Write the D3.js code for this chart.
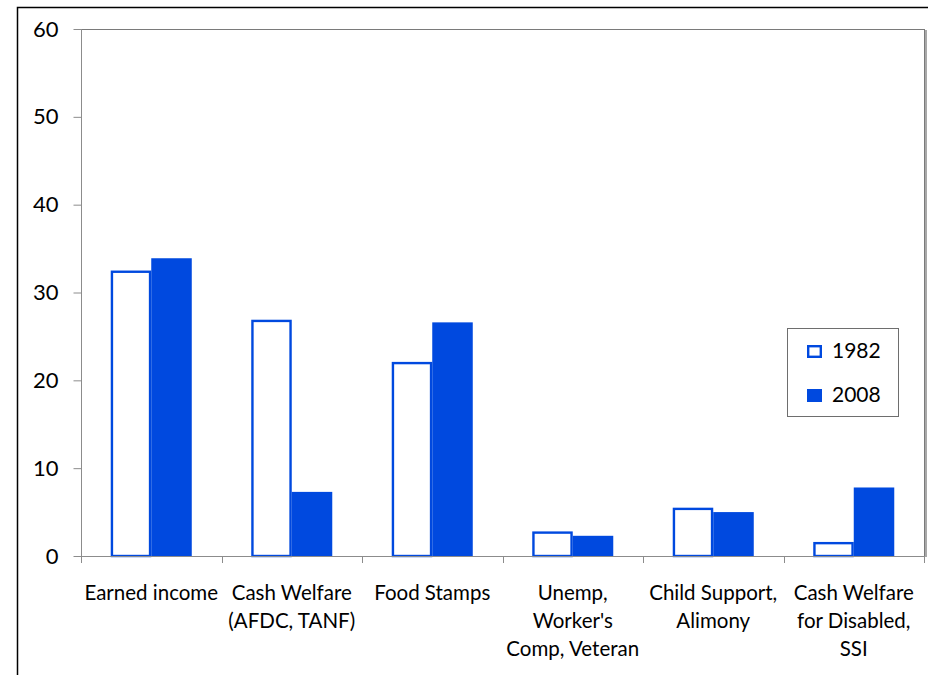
<!DOCTYPE html>
<html>
<head>
<meta charset="utf-8">
<script src="https://cdn.jsdelivr.net/npm/d3@7"></script>
<style>
  html, body { margin: 0; padding: 0; background: #fff; }
  svg { display: block; }
  text { font-family: Lato, "Open Sans", sans-serif; fill: #000; }
</style>
</head>
<body>
<div id="chart"></div>
<script>
// Share of income by source, 1982 vs 2008
const categories = [
  ["Earned income"],
  ["Cash Welfare", "(AFDC, TANF)"],
  ["Food Stamps"],
  ["Unemp,", "Worker's", "Comp, Veteran"],
  ["Child Support,", "Alimony"],
  ["Cash Welfare", "for Disabled,", "SSI"]
];
const seriesNames = ["1982", "2008"];
const values1982 = [32.5, 26.9, 22.1, 2.8, 5.5, 1.6];
const values2008 = [33.9, 7.3, 26.6, 2.3, 5.0, 7.8];
const yTicks = [0, 10, 20, 30, 40, 50, 60];

const W = 928, H = 675;
const plot = { left: 81, right: 924, top: 29, bottom: 556 };
const blue = "#0049DF";

const svg = d3.select("#chart").append("svg")
  .attr("width", W).attr("height", H);

// outer chart frame
svg.append("rect")
  .attr("x", 17.5).attr("y", 7.5)
  .attr("width", W + 20).attr("height", H + 20)
  .attr("fill", "none").attr("stroke", "#000").attr("stroke-width", 1.5);

const catKeys = categories.map(c => c.join(" "));
const x0 = d3.scaleBand().domain(catKeys)
  .range([plot.left, plot.right]).paddingInner(0).paddingOuter(0);
const x1 = d3.scaleBand().domain(seriesNames)
  .range([0, x0.bandwidth()]).paddingInner(0).paddingOuter(0.734);
const y = d3.scaleLinear().domain([0, 60]).range([plot.bottom, plot.top]);

// plot frame: top and right edges
svg.append("line")
  .attr("x1", plot.left).attr("x2", plot.right)
  .attr("y1", plot.top + 0.5).attr("y2", plot.top + 0.5)
  .attr("stroke", "#7a7a7a").attr("stroke-width", 1);
svg.append("line")
  .attr("x1", plot.right + 0.5).attr("x2", plot.right + 0.5)
  .attr("y1", plot.top).attr("y2", plot.bottom)
  .attr("stroke", "#7a7a7a").attr("stroke-width", 1);
svg.append("line")
  .attr("x1", plot.right + 2).attr("x2", plot.right + 2)
  .attr("y1", plot.top + 1).attr("y2", plot.bottom + 1)
  .attr("stroke", "#a8a8a8").attr("stroke-width", 2);

// y axis
const yAxis = d3.axisLeft(y).tickValues(yTicks).tickSize(8).tickPadding(15)
  .tickFormat(d3.format("d"));
const gy = svg.append("g").attr("transform", `translate(${plot.left + 0.5},0)`).call(yAxis);
gy.select(".domain").attr("stroke", "#8c8c8c").attr("d", `M0,${plot.top}V${plot.bottom + 6}`);
gy.selectAll(".tick line").attr("stroke", "#8c8c8c");
gy.selectAll(".tick text")
  .attr("font-family", "Lato, sans-serif").attr("font-size", 22).attr("fill", "#000");

// bars
const rows = catKeys.map((k, i) => ({ key: k, vals: [values1982[i], values2008[i]] }));
const groups = svg.append("g").selectAll("g").data(rows).join("g")
  .attr("transform", d => `translate(${x0(d.key)},0)`);

groups.selectAll("rect.s1982").data(d => [d.vals[0]]).join("rect")
  .attr("class", "s1982")
  .attr("x", x1("1982") + 1.2)
  .attr("y", v => y(v) + 1.2)
  .attr("width", x1.bandwidth() - 2.4)
  .attr("height", v => y(0) - y(v) - 1.2)
  .attr("fill", "#fff").attr("stroke", blue).attr("stroke-width", 2.4);

groups.selectAll("rect.s2008").data(d => [d.vals[1]]).join("rect")
  .attr("class", "s2008")
  .attr("x", x1("2008"))
  .attr("y", v => y(v))
  .attr("width", x1.bandwidth())
  .attr("height", v => y(0) - y(v))
  .attr("fill", blue);

// x axis baseline and category boundary ticks
svg.append("line")
  .attr("x1", plot.left).attr("x2", plot.right)
  .attr("y1", plot.bottom + 0.5).attr("y2", plot.bottom + 0.5)
  .attr("stroke", "#8c8c8c");
const bounds = catKeys.map(k => x0(k)).concat([plot.right]);
svg.append("g").selectAll("line").data(bounds).join("line")
  .attr("x1", d => Math.round(d) + 0.5).attr("x2", d => Math.round(d) + 0.5)
  .attr("y1", plot.bottom).attr("y2", plot.bottom + 7)
  .attr("stroke", "#8c8c8c");

// category labels
const labels = svg.append("g").selectAll("text").data(categories).join("text")
  .attr("text-anchor", "middle")
  .attr("font-size", 20.5)
  .attr("x", (d, i) => x0(catKeys[i]) + x0.bandwidth() / 2)
  .attr("y", 600);
labels.selectAll("tspan").data(d => d).join("tspan")
  .attr("x", function () { return d3.select(this.parentNode).attr("x"); })
  .attr("dy", (d, i) => i === 0 ? 0 : 28)
  .text(d => d);

// legend
const legend = svg.append("g");
legend.append("rect")
  .attr("x", 787.5).attr("y", 328.5).attr("width", 111).attr("height", 88)
  .attr("fill", "#fff").attr("stroke", "#6e6e6e").attr("stroke-width", 1);
const legItems = legend.selectAll("g").data(seriesNames).join("g")
  .attr("transform", (d, i) => `translate(807,${345 + i * 44})`);
legItems.append("rect")
  .attr("x", d => d === "1982" ? 1.2 : 0)
  .attr("y", d => d === "1982" ? 1.2 : 0)
  .attr("width", d => d === "1982" ? 12.6 : 15)
  .attr("height", d => d === "1982" ? 10.6 : 13)
  .attr("fill", d => d === "1982" ? "#fff" : blue)
  .attr("stroke", d => d === "1982" ? blue : "none")
  .attr("stroke-width", 2.4);
legItems.append("text")
  .attr("x", 25).attr("y", 13)
  .attr("font-size", 21)
  .text(d => d);
</script>
</body>
</html>
